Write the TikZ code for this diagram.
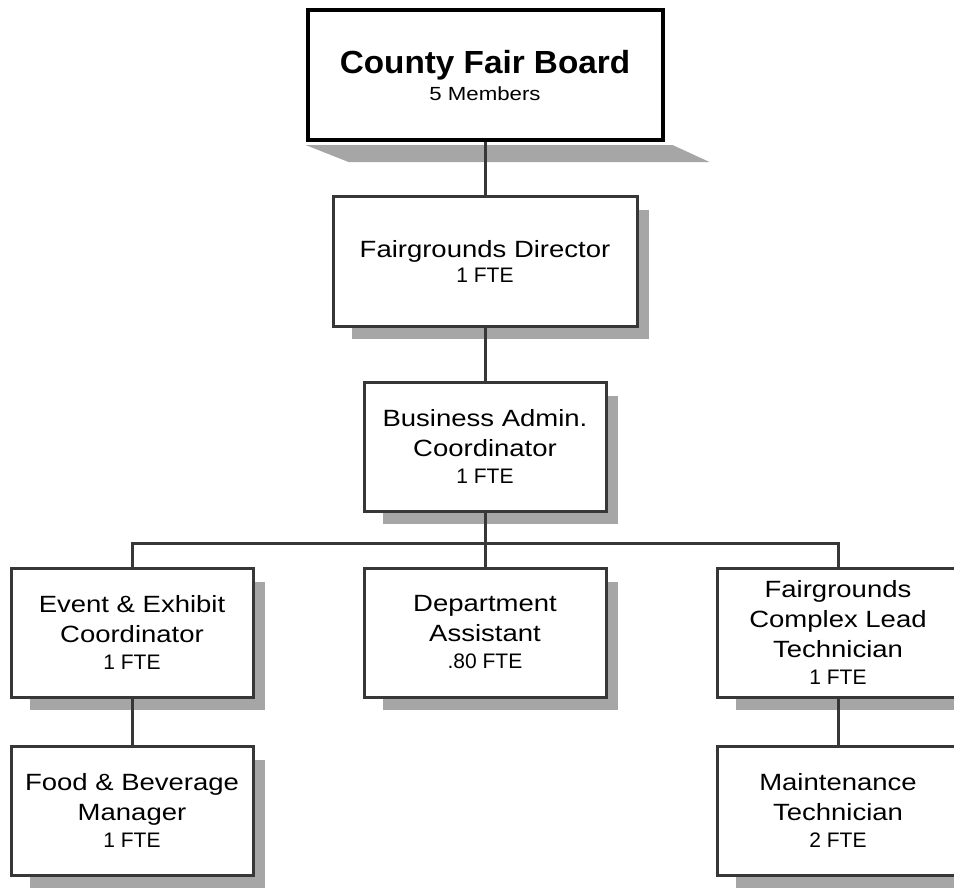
\documentclass[tikz,border=0pt]{standalone}
\usepackage{fontspec}
\setmainfont{Liberation Sans}
\newfontfamily\nmfont[FakeStretch=1.17]{Liberation Sans}
\newfontfamily\ttlfont[FakeStretch=1.04]{Liberation Sans}
\newfontfamily\ftefont{Liberation Sans}
\newcommand{\ftel}[1]{{\ftefont\fontsize{21}{26}\selectfont #1}}
\pgfdeclarelayer{bg}
\pgfdeclarelayer{edges}
\pgfsetlayers{bg,edges,main}
\definecolor{shd}{RGB}{166,166,166}
\definecolor{edgec}{RGB}{55,55,55}
\begin{document}
\begin{tikzpicture}[x=1pt,y=-1pt,
  box/.style={draw=edgec,line width=3pt,fill=white,minimum width=242pt,minimum height=129pt,
    inner sep=0pt,align=center,font=\nmfont\fontsize{23.5}{30}\selectfont},
  conn/.style={draw=edgec,line width=3pt},
  shadowfill/.style={fill=shd}]
\useasboundingbox (0,0) rectangle (954,891);
\clip (0,0) rectangle (954,891);

\node[box, minimum width=355pt, minimum height=130pt, draw=black, line width=4pt,
      font=\nmfont\fontsize{19}{27}\selectfont] (board) at (485,75)
  {{\ttlfont\bfseries\fontsize{32}{36}\selectfont County Fair Board}\\5 Members};
\node[box, minimum width=304pt, minimum height=130pt] (dir) at (485,261)
  {Fairgrounds Director\\[-5pt]\ftel{1 FTE}};
\node[box] (bac) at (485,446.5) {Business Admin.\\Coordinator\\[-3pt]\ftel{1 FTE}};
\node[box] (evt) at (132,632.5) {Event \& Exhibit\\Coordinator\\[-3pt]\ftel{1 FTE}};
\node[box] (dept) at (485,632.5) {Department\\Assistant\\[-3pt]\ftel{.80 FTE}};
\node[box] (fcl) at (838,632.5) {Fairgrounds\\Complex Lead\\Technician\\[-3pt]\ftel{1 FTE}};
\node[box] (food) at (132,810.5) {Food \& Beverage\\Manager\\[-3pt]\ftel{1 FTE}};
\node[box] (mnt) at (838,810.5) {Maintenance\\Technician\\[-3pt]\ftel{2 FTE}};

\begin{pgfonlayer}{bg}
  \fill[shadowfill] ([yshift=-3]board.south west) -- ([xshift=8,yshift=-3]board.south east)
     -- ([shift={(45,20)}]board.south east) -- ([shift={(43,20)}]board.south west) -- cycle;
  \foreach \n in {dir,bac,evt,dept,fcl,food,mnt}
    \fill[shadowfill] ([shift={(20,15)}]\n.north west) rectangle ([shift={(10,11)}]\n.south east);
\end{pgfonlayer}

\begin{pgfonlayer}{edges}
  \coordinate (j) at (485,543);
  \draw[conn] (board) -- (dir);
  \draw[conn] (dir) -- (bac);
  \draw[conn] (bac) -- (j);
  \draw[conn] (j) -| (evt.north);
  \draw[conn] (j) -| (fcl.north);
  \draw[conn] (j) -- (dept.north);
  \draw[conn] (evt) -- (food);
  \draw[conn] (fcl) -- (mnt);
\end{pgfonlayer}
\end{tikzpicture}
\end{document}
